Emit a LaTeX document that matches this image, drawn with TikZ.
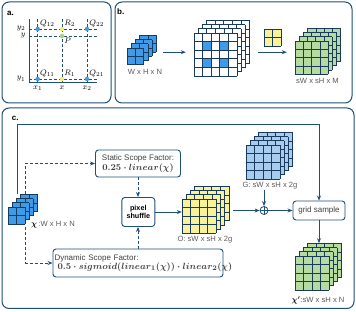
\documentclass[tikz,border=0pt]{standalone}
\usepackage{amsmath}
\usepackage{fontspec}
\setmainfont{Liberation Sans}
\usepackage{tikz}
\usetikzlibrary{arrows.meta,positioning,fit}
\definecolor{cline}{HTML}{1F4E79}
\definecolor{cgridl}{HTML}{1A3A5C}
\definecolor{cblue}{HTML}{3D9BE9}
\definecolor{clblue}{HTML}{A8CBF0}
\definecolor{cyel}{HTML}{F8F39A}
\definecolor{cgreen}{HTML}{B5DBA0}
\definecolor{cqpt}{HTML}{3D9BE9}
\definecolor{crpt}{HTML}{F2EE6E}
\definecolor{cppt}{HTML}{A3D18C}
\definecolor{ctext}{HTML}{5A5A5A}
\newcommand{\fmath}{\fontsize{9.5}{11}\selectfont}
% stack of feature maps: #1,#2 front top-left, #3 cells, #4 cell size, #5 layers behind, #6 fill
\newcommand{\layerstack}[6]{%
  \foreach \k in {#5,...,0}{
    \begin{scope}[shift={(\k*4.2,-\k*4.2)}]
      \fill[#6] (#1,#2) rectangle ++(#3*#4,#3*#4);
      \foreach \i in {0,...,#3}{
        \draw[cellline] (#1+\i*#4,#2) -- ++(0,#3*#4);
        \draw[cellline] (#1,#2+\i*#4) -- ++(#3*#4,0);
      }
    \end{scope}
  }}
\tikzset{
  panel/.style={draw=cline, line width=1pt, rounded corners=7pt},
  plabel/.style={font=\fontsize{8}{9}\selectfont\bfseries, anchor=west, inner sep=0pt},
  box/.style={draw=cline, line width=0.9pt, rounded corners=3pt, fill=white, align=center, inner sep=2pt},
  opbox/.style={box, font=\fontsize{7.2}{8.4}\selectfont\bfseries, minimum width=33pt, minimum height=29pt},
  facbox/.style={box, text=black!75, font=\fontsize{8}{9.5}\selectfont, inner sep=1.5pt},
  cellline/.style={draw=cgridl, line width=0.7pt},
  pre/.style={-{Stealth[length=5pt,width=4pt]}, draw=cline, line width=0.8pt},
  dpre/.style={pre, densely dashed},
  guide/.style={draw=cline, densely dashed, line width=0.7pt},
  axis/.style={draw=cline, line width=0.8pt},
  dotn/.style={circle, inner sep=0pt, minimum size=4.5pt},
  qdot/.style={dotn, fill=cqpt},
  rdot/.style={dotn, fill=crpt},
  pdot/.style={dotn, fill=cppt},
  mlbl/.style={font=\fontsize{8}{9}\selectfont, inner sep=0.5pt},
  dimlbl/.style={font=\fontsize{7.6}{8.6}\selectfont, text=ctext, inner sep=0pt},
  stk/.style={inner sep=0pt},
}
\begin{document}
\begin{tikzpicture}[x=1pt,y=-1pt]
\useasboundingbox (0,0) rectangle (356,312);
% ---------------- (a) bilinear interpolation
\draw[panel] (2,2) rectangle (111,103);
\node[plabel] (alab) at (7,13) {a.};
\draw[axis] (29,19) -- (29,82) -- (97,82);
\foreach \yy in {29,36,79} \draw[guide] (29,\yy) -- (97,\yy);
\foreach \xx in {37.7,62,87} \draw[guide] (\xx,19) -- (\xx,82);
\node[qdot] (q12) at (37.7,29) {};
\node[rdot] (r2) at (62,29) {};
\node[qdot] (q22) at (87,29) {};
\node[pdot] (p) at (62,36) {};
\node[qdot] (q11) at (37.7,79) {};
\node[rdot] (r1) at (62,79) {};
\node[qdot] (q21) at (87,79) {};
\node[mlbl, anchor=south west] at (q12.north east) {$Q_{12}$};
\node[mlbl, anchor=south west] at (r2.north east) {$R_2$};
\node[mlbl, anchor=south west] at (q22.north east) {$Q_{22}$};
\node[mlbl, anchor=north west] at (p.south east) {$P$};
\node[mlbl, anchor=south west] at (q11.north east) {$Q_{11}$};
\node[mlbl, anchor=south west] at (r1.north east) {$R_1$};
\node[mlbl, anchor=south west] at (q21.north east) {$Q_{21}$};
\node[mlbl, anchor=south east] (ly2) at (26,31.6) {$y_2$};
\node[mlbl, anchor=north east] (ly) at (26,32.4) {$y$};
\node[mlbl, anchor=east] (ly1) at (26,79) {$y_1$};
\node[mlbl, anchor=north] (lx1) at (37.7,85) {$x_1$};
\node[mlbl, anchor=north] (lx) at (62,85) {$x$};
\node[mlbl, anchor=north] (lx2) at (87,85) {$x_2$};
% ---------------- (b) transposed convolution
\draw[panel] (115,2) rectangle (352,103);
\node[plabel] (blab) at (117,12) {b.};
\layerstack{127}{48}{2}{8.4}{3}{cblue}
\node[stk, fit={(127,35.4) (157,64.8)}] (bin) {};
\node[dimlbl] (binl) at (145,72) {W x H x N};
\layerstack{194}{33}{5}{8.6}{3}{white}
\foreach \i/\j in {1/1,1/3,3/1,3/3} \filldraw[cellline, fill=cblue] (194+\i*8.6,33+\j*8.6) rectangle ++(8.6,8.6);
\node[stk, fit={(194,20.4) (249.6,76)}] (bup) {};
\layerstack{264}{29}{2}{8.5}{0}{cyel}
\node[stk, fit={(264,29) (281,46)}] (bker) {};
\layerstack{295}{41}{4}{8.3}{3}{cgreen}
\node[stk, fit={(295,28.4) (340,74.2)}] (bout) {};
\node[dimlbl] (boutl) at (317.5,81) {sW x sH x M};
\coordinate (barr) at ([yshift=-6pt]bker.south);
\draw[pre, shorten <=6pt, shorten >=8pt] (bin.east |- barr) -- (bup.west |- barr);
\draw[pre, shorten <=8.4pt, shorten >=8pt] (bup.east |- barr) -- (bout.west |- barr);
% ---------------- (c) dynamic upsampling
\draw[panel] (2,108) rectangle (354,308.5);
\node[plabel] (clab) at (11.7,118) {c.};
\layerstack{8}{207}{2}{8.5}{3}{cblue}
\node[stk, fit={(8,194.4) (37.6,224)}] (cin) {};
\node[dimlbl, anchor=west] (cinl) at (31,225) {{\color{black}$\boldsymbol{\chi}$}\,:W x H x N};
\node[facbox, minimum width=85pt, minimum height=27pt] (sfac) at (138,163.5)
  {Static Scope Factor:\\{\fmath$\boldsymbol{0.25\cdot linear(\chi)}$}};
\node[opbox] (shuf) at (138.3,212) {pixel\\shuffle};
\node[facbox, align=left, text width=167pt, minimum height=28pt] (dfac) at (138,263)
  {Dynamic Scope Factor:\\\hspace*{3pt}{\fmath$\boldsymbol{0.5\cdot sigmoid(linear_1(\chi))\cdot linear_2(\chi)}$}};
\layerstack{182}{199}{4}{8.6}{3}{cyel}
\node[stk, fit={(182,186.4) (229.2,233.4)}] (ostk) {};
\node[dimlbl] (ostkl) at (205,240) {O: sW x sH x 2g};
\layerstack{246}{145}{4}{8.5}{3}{clblue}
\node[stk, fit={(246,132.4) (292.6,179)}] (gstk) {};
\node[dimlbl] (gstkl) at (270,186) {G: sW x sH x 2g};
\node[circle, draw=cline, line width=0.8pt, minimum size=8pt, inner sep=0pt] (plus) at (264,210.5) {};
\draw[cline, line width=0.7pt] (plus.north) -- (plus.south) (plus.west) -- (plus.east);
\node[box, font=\fontsize{8}{9}\selectfont, text=black!75, minimum width=52pt, minimum height=19pt] (gsam) at (319,210.5) {grid sample};
\layerstack{295}{256}{4}{8.5}{3}{cgreen}
\node[stk, fit={(295,243.4) (341.6,290)}] (cout) {};
\node[dimlbl] (coutl) at (318,300) {{\color{black}$\boldsymbol{\chi'}$}:sW x sH x N};
\draw[pre] ([xshift=-5.8pt]cin.north) -- ++(0,-69.4) -| (gsam.north);
\draw[dpre] ([xshift=2.7pt]cin.north) |- (sfac.west);
\draw[dpre, shorten <=3pt] ([xshift=2.7pt]cin.south) |- (dfac.west);
\draw[dpre] (sfac.south) -- (sfac.south |- shuf.north);
\draw[dpre] (dfac.north) -- (dfac.north |- shuf.south);
\draw[pre] (shuf.east) -- (shuf.east -| ostk.west);
\draw[pre, shorten <=4pt] (ostk.east |- plus) -- (plus.west);
\draw[pre] (plus.east) -- (gsam.west);
\draw[pre] (gstkl.south -| plus) -- (plus.north);
\draw[pre] (gsam.south) -- (gsam.south |- cout.north);
\end{tikzpicture}
\end{document}
